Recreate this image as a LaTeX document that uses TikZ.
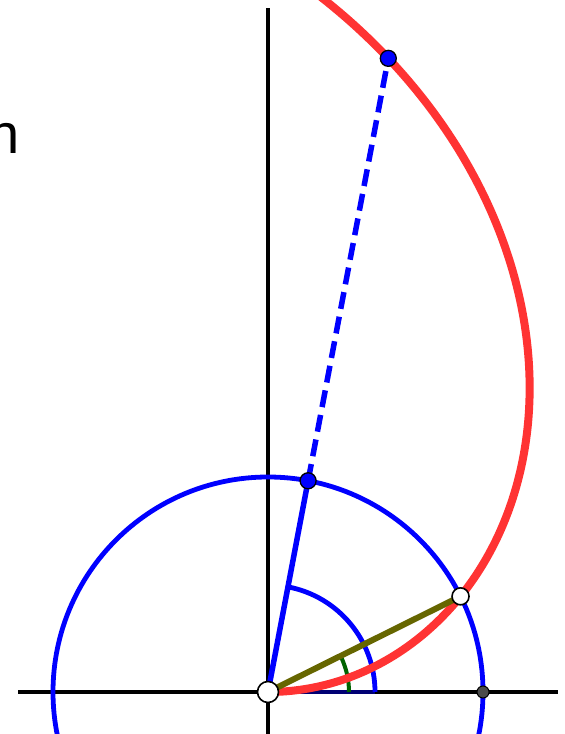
\documentclass[tikz,border=0pt]{standalone}
\usepackage{fontspec}
\setmainfont{Liberation Sans}
\begin{document}
\begin{tikzpicture}[x=1pt,y=1pt,
  axis/.style={line width=3.5pt,black},
  bluec/.style={line width=4.8pt,draw={rgb,255:red,0;green,0;blue,255}},
  ptblue/.style={circle,draw=black,line width=1.3pt,fill={rgb,255:red,0;green,0;blue,255},minimum size=16pt,inner sep=0},
  ptwhite/.style={circle,draw=black,line width=1.6pt,fill=white,minimum size=17pt,inner sep=0},
  ptgray/.style={circle,draw=black,line width=1pt,fill=black!70,minimum size=12pt,inner sep=0}]
\definecolor{myred}{RGB}{255,51,51}
\definecolor{myolive}{RGB}{102,102,0}
\definecolor{mygreen}{RGB}{0,100,0}
\definecolor{myblue}{RGB}{0,0,255}
\useasboundingbox (0,0) rectangle (565,734);
\fill[white] (0,0) rectangle (565,734);
\clip (0,0) rectangle (565,734);
\node[anchor=base west,inner sep=0,font=\fontsize{56}{60}\selectfont] (txt) at (-11.5,580) {n};
\coordinate (O) at (268,42);
\coordinate (Xl) at (18,42);
\coordinate (Xr) at (558,42);
\coordinate (Yb) at (268,-5);
\coordinate (Yt) at (268,726);
\draw[axis] (Xl) -- (Xr);
\draw[axis] (Yb) -- (Yt);
\begin{scope}[shift={(O)}]
  \coordinate (P1) at (79.25:215);
  \coordinate (P2) at (79.25:645);
  \coordinate (T) at (26.4167:215);
  \coordinate (G) at (215,0);
  \coordinate (A1) at (107,0);
  % angle marks
  \draw[line width=3.5pt,blue!45!black] (0,0) -- (A1);
  \draw[bluec] (A1) arc[start angle=0,end angle=79.25,radius=107];
  \draw[line width=4pt,mygreen] (81,0) arc[start angle=0,end angle=26.4167,radius=81];
  % circle
  \draw[bluec] (0,0) circle[radius=215];
  % spiral
  \draw[line width=8pt,myred,line join=round] plot[domain=0:88,samples=240,smooth] ({8.1388*\x*cos(\x)},{8.1388*\x*sin(\x)});
  % lines
  \draw[line width=6pt,myolive] (0,0) -- (T);
  \draw[line width=5.5pt,myblue] (0,0) -- (P1);
  \draw[line width=5.5pt,myblue,dash pattern=on 17pt off 8pt] (P1) -- (P2);
\end{scope}
\node[ptblue] (nP1) at (P1) {};
\node[ptblue] (nP2) at (P2) {};
\node[ptwhite] (nT) at (T) {};
\node[ptgray] (nG) at (G) {};
\node[ptwhite,minimum size=21pt] (nO) at (O) {};
\end{tikzpicture}
\end{document}
